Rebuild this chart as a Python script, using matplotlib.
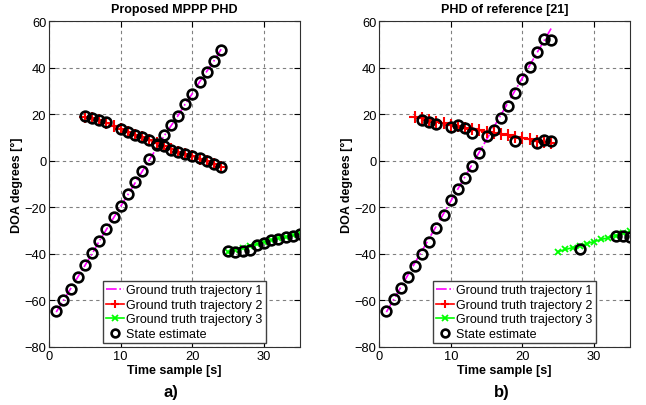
import numpy as np
import matplotlib
matplotlib.use('Agg')
import matplotlib.pyplot as plt

plt.rcParams['font.family'] = ['Liberation Sans', 'DejaVu Sans']

# ==========================================
# Data
# ==========================================
t1 = list(range(1, 25))
t2 = list(range(5, 25))
t3 = list(range(25, 36))

# --- panel a) Proposed MPPP PHD ---
gt1_a = [-65, -60, -55, -50, -45, -40, -34.5, -29.5, -24.5, -19.5, -14.5, -9.5,
         -4.5, 0.5, 5.5, 10.5, 15, 19.5, 24.5, 29, 34, 38.5, 43, 48]
gt2_a = [19, 18.3, 17.4, 16.4, 15, 13.6, 12.4, 11.2, 10.1, 8.9, 7.8, 6.6,
         5.2, 4, 3, 2, 1, -0.1, -1.3, -2.7]
gt3_a = [-39, -38.2, -37.3, -36.5, -35.7, -34.9, -34.1, -33.3, -32.6, -31.9, -31.2]

est_t_a = (list(range(1, 25))
           + [5, 6, 7, 8] + list(range(10, 25))
           + list(range(25, 36)))
est_a = ([-64.7, -59.9, -55.1, -50.1, -44.9, -39.7, -34.4, -29.2, -24.2, -19.3,
          -14.3, -9.1, -4.3, 0.9, 6.8, 11.3, 15.4, 19.4, 24.3, 28.9, 33.8, 38.2,
          42.8, 47.7]
         + [19.1, 18.5, 17.7, 16.6, 13.5, 12.3, 11.2, 10.1, 8.9, 7.4, 6.3, 4.5,
            3.9, 2.9, 2.1, 1.2, -0.1, -1.2, -2.7]
         + [-38.7, -39.1, -38.9, -38.4, -36.1, -35.1, -34.2, -33.4, -32.8, -32.1,
            -31.5])

# --- panel b) PHD of reference [21] ---
gt1_b = [-65, -59.7, -54.4, -49.1, -43.8, -38.5, -33.2, -27.9, -22.6, -17.3,
         -12, -6.7, -1.4, 3.9, 9.2, 14.5, 19.8, 25.1, 30.4, 35.7, 41, 46.3,
         51.6, 56.9]
gt2_b = [19, 18.3, 17.6, 16.9, 16.2, 15.5, 14.8, 14.2, 13.6, 13.1, 12.5, 12,
         11.5, 11, 10.4, 9.8, 9.2, 8.7, 8.3, 7.9]
gt3_b = [-39, -38.1, -37.3, -36.5, -35.6, -34.7, -33.8, -33, -32.1, -31.2, -30.3]

est_t_b = (list(range(1, 25))
           + [6, 7, 8, 10, 11, 12, 13, 19, 22, 23, 24]
           + [28, 33, 34, 35])
est_b = ([-64.5, -59.4, -54.7, -50.0, -45.1, -40.2, -34.8, -28.8, -23.3, -16.9,
          -12.1, -7.4, -2.1, 3.2, 10.5, 13.4, 18.4, 23.7, 29.0, 35.3, 40.5, 46.9,
          52.5, 52.1]
         + [17.7, 16.8, 15.8, 14.7, 15.4, 14.1, 11.8, 8.4, 7.6, 9.1, 8.4]
         + [-37.9, -32.2, -32.3, -32.7])

xticks = [0, 10, 20, 30]
yticks = [-80, -60, -40, -20, 0, 20, 40, 60]


def draw_panel(ax, title, gt1, gt2, gt3, est_t, est):
    ax.plot(t1, gt1, color='#ff00ff', linestyle='-.', lw=1.2,
            label='Ground truth trajectory 1')
    ax.plot(t2, gt2, color='red', marker='+', ms=8, mew=1.5, lw=1.2,
            label='Ground truth trajectory 2')
    ax.plot(t3, gt3, color='#00ff00', marker='x', ms=5, mew=1.3, lw=1.2,
            label='Ground truth trajectory 3')
    ax.plot(est_t, est, linestyle='none', marker='o', ms=7, mew=1.9,
            mec='black', mfc='none', label='State estimate')

    ax.set_xlim(0, 35)
    ax.set_ylim(-80, 60)
    ax.set_xticks(xticks)
    ax.set_yticks(yticks)
    ax.grid(True, color='#808080', linestyle=(0, (3, 3)), lw=0.8)
    ax.tick_params(direction='in', length=4, labelsize=9.3, top=True, right=True,
                   pad=2)
    for s in ax.spines.values():
        s.set_color('#303030')

    ax.set_title(title, fontsize=9, fontweight='bold', pad=7)
    ax.set_xlabel('Time sample [s]', fontsize=9, fontweight='bold', labelpad=2)
    ax.set_ylabel('DOA degrees [°]', fontsize=9, fontweight='bold', labelpad=1)

    leg = ax.legend(loc='lower left', bbox_to_anchor=(0.215, 0.012),
                    fontsize=9, handlelength=1.4, handletextpad=0.2,
                    borderpad=0.25, labelspacing=0.2, borderaxespad=0,
                    fancybox=False, framealpha=1, markerscale=0.8)
    leg.get_frame().set_edgecolor('#404040')
    leg.get_frame().set_linewidth(1.0)


fig = plt.figure(figsize=(6.46, 4.06), dpi=100)
ax_a = fig.add_axes([0.0759, 0.143, 0.3885, 0.802])
ax_b = fig.add_axes([0.587, 0.143, 0.388, 0.802])

draw_panel(ax_a, 'Proposed MPPP PHD', gt1_a, gt2_a, gt3_a, est_t_a, est_a)
draw_panel(ax_b, 'PHD of reference [21]', gt1_b, gt2_b, gt3_b, est_t_b, est_b)

# panel tags below the axes
fig.text(0.264, 0.033, 'a)', ha='center', va='center', fontsize=12,
         fontweight='bold')
fig.text(0.777, 0.033, 'b)', ha='center', va='center', fontsize=12,
         fontweight='bold')

fig.savefig('out.png', dpi=100)
